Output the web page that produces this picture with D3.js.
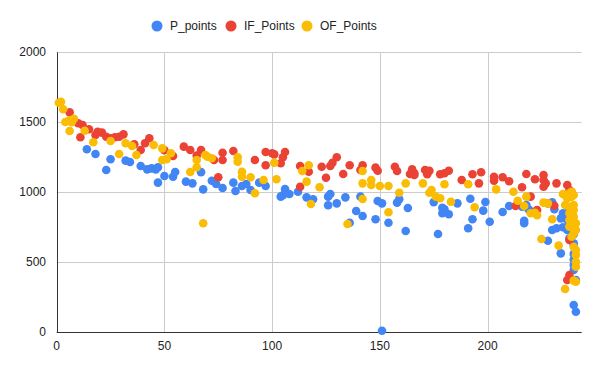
<!DOCTYPE html>
<html>
<head>
<meta charset="utf-8">
<script src="https://cdn.jsdelivr.net/npm/d3@7"></script>
<style>
  body { margin: 0; background: #fff; }
  svg { display: block; font-family: "Liberation Sans", Arial, sans-serif; }
</style>
</head>
<body>
<script>
var width = 600, height = 371;

var seriesNames = ["P_points", "IF_Points", "OF_Points"];
var seriesColors = ["#4285F4", "#EA4335", "#FBBC04"];
var xTicks = [0, 50, 100, 150, 200];
var yTicks = [0, 500, 1000, 1500, 2000];

// [x, y] pairs
var pPoints = [
  [14,1307],[18,1274],[23,1159],[25,1236],[32,1226],[34,1216],[39,1188],[42,1164],[44,1171],[46,1164],
  [47,1179],[47,1069],[50,1116],[54,1111],[55,1145],[60,1076],[63,1064],[67,1144],[68,1021],[72,1083],
  [74,1059],[77,1031],[82,1069],[83,1009],[86,1045],[88,1059],[90,1016],[94,1069],[97,1045],[106,1024],
  [104,969],[105,979],[108,988],[112,1004],[116,964],[119,950],[126,969],[127,988],[126,907],[130,921],
  [134,964],[141,969],[139,866],[142,831],[136,783],[148,807],[149,938],[151,921],[151,11],[154,783],
  [158,926],[159,950],[163,888],[162,724],[175,930],[177,702],[179,890],[179,850],[180,879],[182,843],
  [186,921],[191,743],[192,954],[193,807],[198,869],[199,931],[201,790],[207,859],[210,902],[217,779],
  [217,797],[218,909],[219,879],[221,861],[216,897],[228,921],[230,929],[230,731],[232,743],[231,879],
  [228,654],[234,814],[235,850],[235,750],[237,802],[237,731],[234,564],[238,671],[240,624],[240,636],
  [240,481],[240,445],[241,374],[240,195],[241,147],[239,760],[240,700],[239,840],[238,880],[240,560],
  [240,520]
];

var ifPoints = [
  [6,1571],[10,1493],[12,1481],[11,1393],[15,1450],[18,1409],[19,1433],[21,1426],[23,1397],[25,1386],
  [27,1393],[29,1397],[31,1414],[36,1343],[39,1302],[41,1350],[43,1386],[50,1300],[54,1259],[59,1326],
  [62,1302],[65,1262],[67,1302],[73,1231],[75,1107],[77,1283],[77,1231],[82,1295],[92,1231],[97,1288],
  [97,1193],[100,1279],[101,1271],[104,1207],[105,1250],[106,1288],[113,1040],[113,1188],[117,1147],[123,1183],
  [125,1104],[127,1188],[128,1211],[130,1250],[133,1131],[136,1193],[141,1159],[142,1193],[148,1176],[149,1154],
  [157,1183],[158,1152],[164,1131],[165,1164],[166,1136],[166,1124],[171,1159],[172,1129],[173,1154],[178,1129],
  [180,1136],[182,1154],[188,1088],[193,1129],[196,1064],[197,1143],[203,1111],[203,1083],[207,1107],[210,1079],
  [213,902],[216,1036],[218,1131],[220,969],[222,1093],[223,874],[226,1124],[226,1088],[226,1040],[227,1064],
  [232,1064],[231,904],[237,1052],[238,1016],[239,1004],[238,981],[238,659],[238,409],[237,374]
];

var ofPoints = [
  [1,1640],[2,1647],[3,1593],[4,1502],[6,1515],[7,1500],[8,1525],[6,1438],[13,1440],[17,1357],
  [25,1366],[29,1274],[32,1350],[35,1331],[37,1266],[45,1338],[49,1314],[49,1231],[51,1236],[53,1279],
  [62,1145],[65,1231],[65,1179],[69,1266],[70,1254],[72,1243],[68,779],[84,1250],[84,1219],[86,1147],
  [86,1111],[90,1107],[92,993],[96,1088],[101,1211],[102,1093],[114,1152],[117,1193],[116,1076],[118,916],
  [122,1036],[135,774],[142,1152],[142,1064],[142,952],[146,1088],[146,1052],[150,1045],[154,1045],[154,857],
  [159,997],[162,1064],[170,1064],[173,997],[174,1016],[176,969],[178,957],[180,1057],[183,933],[191,1057],
  [194,893],[204,1021],[212,1004],[214,940],[217,902],[218,969],[220,850],[222,854],[223,836],[225,666],
  [226,926],[228,921],[230,807],[233,619],[235,988],[236,309],[236,981],[237,957],[239,1004],[238,993],
  [239,969],[240,981],[240,909],[236,909],[238,897],[240,874],[240,826],[241,779],[238,755],[241,731],
  [240,707],[239,683],[238,802],[238,850],[240,610],[241,588],[241,552],[241,504],[241,469],[241,361],
  [240,369]
];

var allSeries = [pPoints, ifPoints, ofPoints];

var x = d3.scaleLinear().domain([0, 243.7]).range([56.7, 581.7]);
var y = d3.scaleLinear().domain([0, 2000]).range([332.3, 52.3]);

var svg = d3.select("body").append("svg")
    .attr("width", width)
    .attr("height", height);

// gridlines
svg.append("g").selectAll("line.hg")
    .data(yTicks.filter(function(d) { return d > 0; }))
    .enter().append("line")
    .attr("x1", x(0)).attr("x2", x(243.7))
    .attr("y1", function(d) { return Math.round(y(d)) + 0.5; })
    .attr("y2", function(d) { return Math.round(y(d)) + 0.5; })
    .attr("stroke", "#cccccc");

svg.append("g").selectAll("line.vg")
    .data(xTicks.filter(function(d) { return d > 0; }))
    .enter().append("line")
    .attr("x1", function(d) { return Math.round(x(d)) + 0.5; })
    .attr("x2", function(d) { return Math.round(x(d)) + 0.5; })
    .attr("y1", y(2000)).attr("y2", y(0))
    .attr("stroke", "#cccccc");

// baselines
svg.append("line")
    .attr("x1", Math.round(x(0)) + 0.5).attr("x2", Math.round(x(0)) + 0.5)
    .attr("y1", y(2000)).attr("y2", y(0))
    .attr("stroke", "#333333");
svg.append("line")
    .attr("x1", x(0)).attr("x2", x(243.7))
    .attr("y1", Math.round(y(0)) + 0.5).attr("y2", Math.round(y(0)) + 0.5)
    .attr("stroke", "#333333");

// tick labels
svg.append("g").selectAll("text")
    .data(yTicks)
    .enter().append("text")
    .attr("x", 46)
    .attr("y", function(d) { return y(d) + 4; })
    .attr("text-anchor", "end")
    .attr("font-size", 12)
    .attr("fill", "#222")
    .text(function(d) { return d; });

svg.append("g").selectAll("text")
    .data(xTicks)
    .enter().append("text")
    .attr("x", function(d) { return x(d); })
    .attr("y", 350)
    .attr("text-anchor", "middle")
    .attr("font-size", 12)
    .attr("fill", "#222")
    .text(function(d) { return d; });

// points
allSeries.forEach(function(pts, i) {
  svg.append("g").selectAll("circle")
      .data(pts)
      .enter().append("circle")
      .attr("cx", function(d) { return x(d[0]); })
      .attr("cy", function(d) { return y(d[1]); })
      .attr("r", 4.3)
      .attr("fill", seriesColors[i]);
});

// legend
var legendX = [157, 231, 307];
var legend = svg.append("g").selectAll("g")
    .data(seriesNames)
    .enter().append("g")
    .attr("transform", function(d, i) { return "translate(" + legendX[i] + ",26)"; });
legend.append("circle")
    .attr("r", 5.5)
    .attr("fill", function(d, i) { return seriesColors[i]; });
legend.append("text")
    .attr("x", 13)
    .attr("y", 4)
    .attr("font-size", 12)
    .attr("fill", "#222")
    .text(function(d) { return d; });
</script>
</body>
</html>
